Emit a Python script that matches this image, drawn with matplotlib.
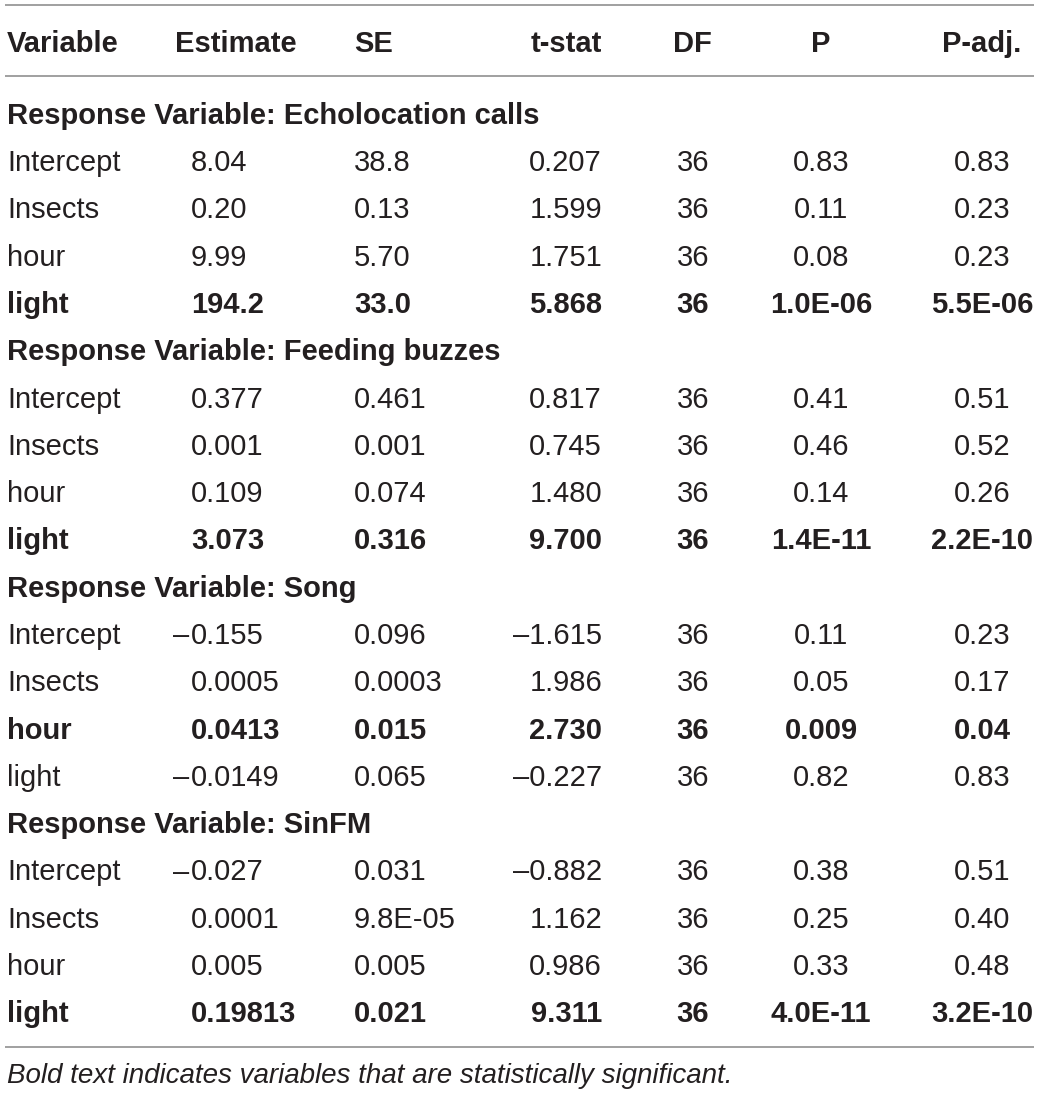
import matplotlib
matplotlib.use("Agg")
import matplotlib.pyplot as plt

plt.rcParams['font.family'] = ['Liberation Sans', 'DejaVu Sans']

headers = ["Variable", "Estimate", "SE", "t-stat", "DF", "P", "P-adj."]
groups = ["Echolocation calls", "Feeding buzzes", "Song", "SinFM"]
variables = ["Intercept", "Insects", "hour", "light"]

estimates = [
    ["8.04", "0.20", "9.99", "194.2"],
    ["0.377", "0.001", "0.109", "3.073"],
    ["–0.155", "0.0005", "0.0413", "–0.0149"],
    ["–0.027", "0.0001", "0.005", "0.19813"],
]
se_vals = [
    ["38.8", "0.13", "5.70", "33.0"],
    ["0.461", "0.001", "0.074", "0.316"],
    ["0.096", "0.0003", "0.015", "0.065"],
    ["0.031", "9.8E-05", "0.005", "0.021"],
]
t_vals = [
    ["0.207", "1.599", "1.751", "5.868"],
    ["0.817", "0.745", "1.480", "9.700"],
    ["–1.615", "1.986", "2.730", "–0.227"],
    ["–0.882", "1.162", "0.986", "9.311"],
]
df_vals = [
    ["36", "36", "36", "36"],
    ["36", "36", "36", "36"],
    ["36", "36", "36", "36"],
    ["36", "36", "36", "36"],
]
p_vals = [
    ["0.83", "0.11", "0.08", "1.0E-06"],
    ["0.41", "0.46", "0.14", "1.4E-11"],
    ["0.11", "0.05", "0.009", "0.82"],
    ["0.38", "0.25", "0.33", "4.0E-11"],
]
padj_vals = [
    ["0.83", "0.23", "0.23", "5.5E-06"],
    ["0.51", "0.52", "0.26", "2.2E-10"],
    ["0.23", "0.17", "0.04", "0.83"],
    ["0.51", "0.40", "0.48", "3.2E-10"],
]
significant = [
    [False, False, False, True],
    [False, False, False, True],
    [False, False, True, False],
    [False, False, False, True],
]
footnote = "Bold text indicates variables that are statistically significant."

W, H = 1040, 1096
fig = plt.figure(figsize=(W / 100, H / 100), dpi=100)
ax = fig.add_axes([0, 0, 1, 1])
ax.set_xlim(0, W)
ax.set_ylim(H, 0)
ax.axis("off")

TXT = "#231f20"
LINE = "#a0a0a0"
FS = 21

# column layout: (x, ha)
col_hdr = [(7, "left"), (236, "center"), (354, "left"), (602, "right"),
           (692, "center"), (821, "center"), (982, "center")]
col_val = [(7, "left"), (191, "left"), (354, "left"), (602, "right"),
           (693, "center"), (821, "center"), (982, "center")]


def put(x, y, s, ha, bold=False, style="normal", fs=FS):
    return ax.text(x, y, s, ha=ha, va="baseline", fontsize=fs, color=TXT,
                   fontweight="bold" if bold else "normal", fontstyle=style)


def put_val(x, y, s, ha, bold):
    if ha == "left" and s.startswith("–"):
        # hang the minus sign to the left of the alignment point
        put(x, y, s[1:], "left", bold)
        put(x - 2, y, "–", "right", bold)
    else:
        put(x, y, s, ha, bold)


# rules
for yl in (5, 76, 1047):
    ax.plot([5, 1034], [yl, yl], color=LINE, lw=1.4, solid_capstyle="butt")

# header
put_y = 52
for (x, ha), h in zip(col_hdr, headers):
    put(x, put_y, h, ha, bold=True)

row0 = 123.7
step = 47.3
r = 0
for g, gname in enumerate(groups):
    y = row0 + r * step
    put(7, y, "Response Variable: " + gname, "left", bold=True)
    r += 1
    for i, v in enumerate(variables):
        y = row0 + r * step
        b = significant[g][i]
        cells = [v, estimates[g][i], se_vals[g][i], t_vals[g][i],
                 df_vals[g][i], p_vals[g][i], padj_vals[g][i]]
        for (x, ha), s in zip(col_val, cells):
            put_val(x, y, s, ha, b)
        r += 1

put(7, 1083, footnote, "left", style="italic", fs=20)

fig.savefig("out.png", dpi=100)
